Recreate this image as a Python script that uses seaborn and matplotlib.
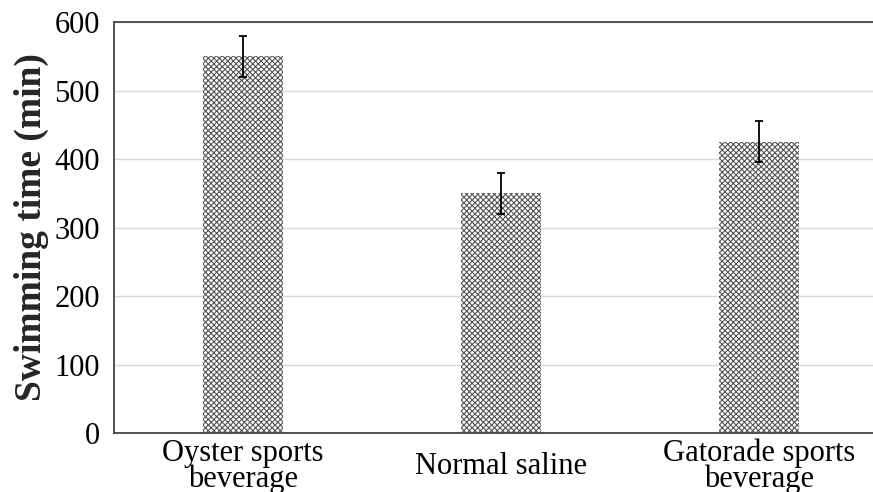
import matplotlib
matplotlib.use("Agg")
import matplotlib.pyplot as plt
import seaborn as sns
import pandas as pd

# Values
groups = ["Oyster sports\nbeverage", "Normal saline", "Gatorade sports\nbeverage"]
swim_time = [550, 350, 425]
swim_err = [30, 30, 30]

df = pd.DataFrame({"group": groups, "time": swim_time})

sns.set_style("white")
plt.rcParams["font.family"] = ["Liberation Serif", "DejaVu Serif"]
plt.rcParams["hatch.linewidth"] = 0.8

fig = plt.figure(figsize=(8.73, 4.92), dpi=100)
ax = fig.add_axes([114 / 873, 1 - 433 / 492, 774 / 873, 411 / 492])

sns.barplot(data=df, x="group", y="time", ax=ax, width=0.31,
            color="white", edgecolor="#555555", linewidth=0,
            hatch="xxxxxx", errorbar=None)
for p in ax.patches:
    p.set_edgecolor("#555555")
    p.set_linewidth(0)

ax.errorbar(range(len(groups)), swim_time, yerr=swim_err, fmt="none",
            ecolor="black", elinewidth=1.3, capsize=3, capthick=1.3, zorder=5)

ax.set_ylim(0, 600)
ax.set_xlim(-0.5, 2.5)
ax.set_yticks(range(0, 601, 100))
ax.yaxis.grid(True, color="#d9d9d9", linewidth=1)
ax.set_axisbelow(True)

for side in ["left", "bottom", "top", "right"]:
    ax.spines[side].set_color("#444444")
    ax.spines[side].set_linewidth(1.3)

ax.tick_params(axis="both", length=0, labelsize=22, colors="black")
ax.tick_params(axis="y", pad=10)
ax.tick_params(axis="x", pad=24)
for lbl in ax.get_xticklabels():
    lbl.set_linespacing(0.85)
    lbl.set_verticalalignment("center")

ax.set_xlabel("")
ax.set_ylabel("Swimming time (min)", fontsize=27, fontweight="bold", labelpad=4)

fig.savefig("out.png", dpi=100)
